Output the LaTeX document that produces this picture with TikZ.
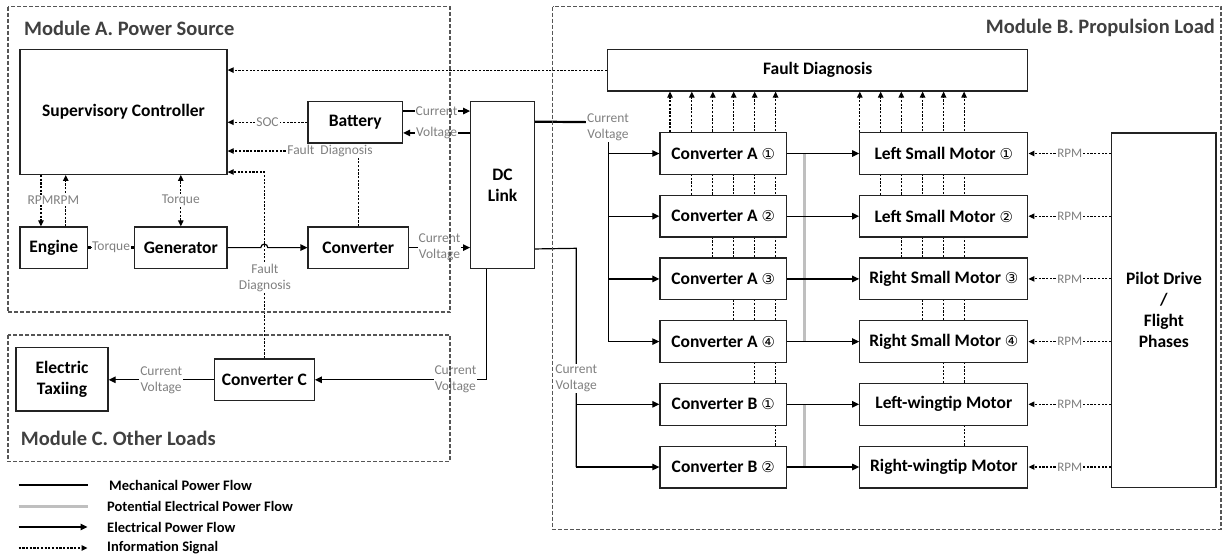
\documentclass[tikz,border=0pt]{standalone}
\usepackage{fontspec}
\setmainfont{Carlito}
\newfontfamily\dvs{DejaVu Sans}
\usetikzlibrary{arrows.meta,calc}
\pgfdeclarelayer{bg}
\pgfsetlayers{bg,main}
\definecolor{lblgray}{RGB}{128,128,128}
\definecolor{modgray}{RGB}{85,85,85}
\definecolor{titlegray}{RGB}{64,64,64}
\definecolor{potgray}{RGB}{191,191,191}
\definecolor{boxline}{RGB}{35,35,35}
\newcommand{\cnum}[1]{{\dvs\mdseries\fontsize{15}{15}\selectfont #1}}
\begin{document}
\begin{tikzpicture}[x=1pt,y=-1pt,
  blk/.style={draw=boxline,line width=1.3pt,fill=white,inner sep=0pt,align=center,
    font=\fontsize{17.5}{21}\selectfont\bfseries,text=black},
  modbox/.style={draw=modgray,line width=1.5pt,dash pattern=on 4pt off 2pt},
  modtitle/.style={font=\fontsize{20.5}{24}\selectfont\bfseries,text=titlegray,inner sep=0pt},
  lbl/.style={font=\fontsize{13.5}{16}\selectfont,text=lblgray,fill=white,inner sep=1pt,align=center},
  legtext/.style={font=\fontsize{14.5}{16}\selectfont\bfseries,text=black,inner sep=0pt,anchor=west},
  elec/.style={draw=black,line width=1.2pt,-{Triangle[length=7pt,width=6.5pt]}},
  info/.style={draw=black,line width=1.1pt,dash pattern=on 2.2pt off 1.5pt,-{Triangle[length=6pt,width=5.5pt]}},
  infotwo/.style={draw=black,line width=1.1pt,dash pattern=on 2.2pt off 1.5pt,{Triangle[length=6pt,width=5.5pt]}-{Triangle[length=6pt,width=5.5pt]}},
  infosq/.style={draw=black,line width=1.1pt,dash pattern=on 2.2pt off 1.5pt,{Square[length=3pt,width=3.5pt]}-{Square[length=3pt,width=3.5pt]}},
  mech/.style={draw=black,line width=2.4pt},
  pot/.style={draw=potgray,line width=3pt},
  thin/.style={draw=black,line width=1.2pt},
]
\useasboundingbox (0,0) rectangle (1224,558);

% ---------- Module A nodes ----------
\node[blk,minimum width=207pt,minimum height=125pt] (sc) at (123.5,111.8) {Supervisory Controller};
\node[blk,minimum width=94.5pt,minimum height=41.5pt] (bat) at (355.25,122.25) {Battery};
\node[blk,minimum width=67.5pt,minimum height=41.3pt] (eng) at (53.75,247.6) {Engine};
\node[blk,minimum width=92.4pt,minimum height=41.3pt] (gen) at (180.8,247.6) {Generator};
\node[blk,minimum width=100.3pt,minimum height=41.3pt] (conv) at (358.2,247.6) {Converter};
\node[blk,minimum width=63.8pt,minimum height=166.6pt] (dc) at (502.6,185) {DC\\Link};

% ---------- Module C nodes ----------
\node[blk,minimum width=100pt,minimum height=41.7pt] (cc) at (264.3,379.8) {Converter C};
\node[blk,minimum width=92pt,minimum height=63.3pt] (tax) at (62,379.3) {Electric\\Taxiing};

% ---------- Module B nodes ----------
\node[blk,minimum width=420.2pt,minimum height=41.7pt] (fd) at (817.7,70.1) {Fault Diagnosis};
\node[blk,minimum width=126.5pt,minimum height=41.7pt] (cA1) at (723.25,153.5) {Converter A \cnum{①}};
\node[blk,minimum width=126.5pt,minimum height=41.7pt] (cA2) at (723.25,216.2) {Converter A \cnum{②}};
\node[blk,minimum width=126.5pt,minimum height=41.7pt] (cA3) at (723.25,278.9) {Converter A \cnum{③}};
\node[blk,minimum width=126.5pt,minimum height=41.7pt] (cA4) at (723.25,341.6) {Converter A \cnum{④}};
\node[blk,minimum width=126.5pt,minimum height=41.7pt] (cB1) at (723.25,404.3) {Converter B \cnum{①}};
\node[blk,minimum width=126.5pt,minimum height=41.7pt] (cB2) at (723.25,467.0) {Converter B \cnum{②}};
\node[blk,minimum width=168pt,minimum height=41.7pt] (m1) at (943.8,153.5) {Left Small Motor \cnum{①}};
\node[blk,minimum width=168pt,minimum height=41.7pt] (m2) at (943.8,216.2) {Left Small Motor \cnum{②}};
\node[blk,minimum width=168pt,minimum height=41.7pt] (m3) at (943.8,278.9) {Right Small Motor \cnum{③}};
\node[blk,minimum width=168pt,minimum height=41.7pt] (m4) at (943.8,341.6) {Right Small Motor \cnum{④}};
\node[blk,minimum width=168pt,minimum height=41.7pt] (m5) at (943.8,404.3) {Left-wingtip Motor};
\node[blk,minimum width=168pt,minimum height=41.7pt] (m6) at (943.8,467.0) {Right-wingtip Motor};
\node[blk,minimum width=104.3pt,minimum height=354.7pt] (pd) at (1163.9,310.4) {Pilot Drive\\/\\Flight\\Phases};

% ---------- helper coordinates ----------
\coordinate (fdA) at (358.2,151);
\coordinate (fdB) at (264.3,172);
\coordinate (r1) at ($(eng.north)+(-12.8,0)$);
\coordinate (r2) at ($(eng.north)+(12,0)$);
\coordinate (hop) at (260.8,247.6);
\coordinate (bI) at ($(bat.north east)+(0,10.2)$);
\coordinate (bV) at ($(bat.south east)+(0,-10.7)$);
\coordinate (dcb) at ($(dc.south west)+(16.8,0)$);
\coordinate (dcU) at ($(dc.north east)+(0,20.6)$);
\coordinate (busA) at (608.3,122.3);
\coordinate (dcL) at ($(dc.south east)+(0,-20)$);
\coordinate (busB) at (576.2,248.3);
\coordinate (potx) at (804,0);

% ---------- Module A connectors ----------
\draw[info] (fd.west) -- (fd.west -| sc.east);
\draw[info] (bat.west) -- node[lbl]{SOC} (bat.west -| sc.east);
\draw[info] (conv.north) -- (fdA) -- (fdA -| sc.east);
\node[lbl] (fdAlbl) at (330,151) {Fault\hspace{3pt} Diagnosis};
\draw[info] (cc.north) -- (fdB) -- (fdB -| sc.east);
\node[lbl] (fdBlbl) at (265,278) {Fault\\Diagnosis};
\draw[info] (r1 |- sc.south) -- (r1);
\draw[info] (r2) -- (r2 |- sc.south);
\node[lbl,inner sep=0.5pt] (rpmlbl) at ($(r1)!0.5!(r2)+(0,-26.5)$) {RPMRPM};
\draw[infotwo] (gen.north) -- node[lbl]{Torque} (gen.north |- sc.south);
\draw[infosq] (eng.east) -- node[lbl,inner sep=0.5pt]{Torque} (gen.west);
\draw[elec] (gen.east) -- (hop) arc[start angle=180,end angle=360,radius=3.5] -- (conv.west);
\draw[elec] (conv.east) -- node[lbl]{Current\\Voltage} (conv.east -| dc.west);
\draw[elec] (bI) -- node[lbl]{Current} (bI -| dc.west);
\draw[elec] (bV -| dc.west) -- node[lbl]{Voltage} (bV);

% ---------- Module C connectors ----------
\draw[elec] (dcb) |- (cc.east);
\node[lbl] (ccin) at (455.4,379) {Current\\Voltage};
\draw[elec] (cc.west) -- node[lbl]{Current\\Voltage} (tax.east |- cc.west);

% ---------- Module B connectors ----------
\begin{pgfonlayer}{bg}
\foreach \xx/\bx in {670/cA1,691.8/cA2,712.8/cA3,733.7/cA4,754.7/cB1,775.6/cB2,
                     859.8/m1,880.7/m2,901.3/m3,922.6/m4,943.6/m5,964.1/m6}{
  \coordinate (vx) at (\xx,0);
  \draw[info] (vx |- \bx.north) -- (vx |- fd.south);
}
\end{pgfonlayer}

\draw[mech,line width=2.2pt] (dcU) -- (busA);
\draw[thin] (busA) -- (busA |- cA4.west);
\node[lbl] (busAlbl) at (608,127) {Current\\Voltage};
\foreach \c in {cA1,cA2,cA3,cA4}{\draw[elec] (busA |- \c.west) -- (\c.west);}

\draw[thin] (dcL) -- (busB) -- (busB |- cB2.west);
\node[lbl] (busBlbl) at (576.2,378.5) {Current\\Voltage};
\foreach \c in {cB1,cB2}{\draw[elec] (busB |- \c.west) -- (\c.west);}

\draw[pot] (potx |- cA1.east) -- (potx |- cA4.east);
\draw[pot] (potx |- cB1.east) -- (potx |- cB2.east);
\foreach \c/\m in {cA1/m1,cA2/m2,cA3/m3,cA4/m4,cB1/m5,cB2/m6}{\draw[elec] (\c.east) -- (\m.west);}

\foreach \m in {m1,m2,m3,m4,m5,m6}{\draw[info] (pd.west |- \m.east) -- node[lbl,inner sep=0.5pt,font=\fontsize{13}{14}\selectfont]{RPM} (\m.east);}

% ---------- Modules ----------
\draw[modbox] (8,6.5) rectangle (450,312);
\draw[modbox] (552.7,6.5) rectangle (1221,529.3);
\draw[modbox] (8,335) rectangle (450,461.7);
\node[modtitle,anchor=west] (tA) at (24,28.3) {Module A. Power Source};
\node[modtitle,anchor=east] (tB) at (1215,28.3) {Module B. Propulsion Load};
\node[modtitle,anchor=west] (tC) at (20.7,438.3) {Module C. Other Loads};

% ---------- Legend ----------
\coordinate (l1a) at (18.6,485); \coordinate (l1b) at (87.5,485);
\coordinate (l2a) at (18.6,506); \coordinate (l2b) at (87.5,506);
\coordinate (l3a) at (18.6,527); \coordinate (l3b) at (87.5,527);
\coordinate (l4a) at (18.6,548); \coordinate (l4b) at (87.5,548);
\draw[mech] (l1a) -- (l1b);
\draw[pot] (l2a) -- (l2b);
\draw[elec] (l3a) -- (l3b);
\draw[info] (l4a) -- (l4b);
\node[legtext] (lg1) at (109,485) {Mechanical Power Flow};
\node[legtext] (lg2) at (107,506) {Potential Electrical Power Flow};
\node[legtext] (lg3) at (107,527) {Electrical Power Flow};
\node[legtext] (lg4) at (107,548) {Information Signal};
\end{tikzpicture}
\end{document}
